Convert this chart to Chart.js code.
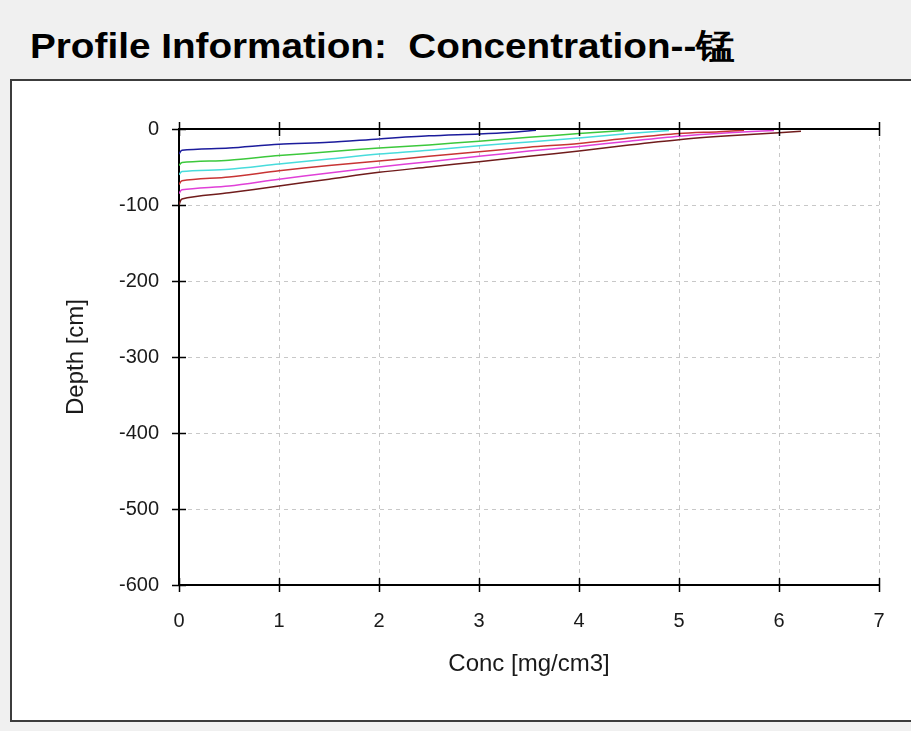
<!DOCTYPE html>
<html>
<head>
<meta charset="utf-8">
<script src="https://cdn.jsdelivr.net/npm/chart.js@4.4.1/dist/chart.umd.min.js"></script>
<style>
  html, body { margin: 0; padding: 0; }
  body { width: 911px; height: 731px; background: #f0f0f0; position: relative; overflow: hidden; }
  #title { position: absolute; left: 30px; top: 23px; font: bold 35px "Liberation Sans", Arial, sans-serif; color: #000; white-space: pre; transform-origin: 0 0; }
  #panel { position: absolute; left: 10px; top: 79px; width: 910px; height: 639px; background: #fff; border: 2px solid #3c3c3c; }
  #wrap { position: absolute; left: 0; top: 0; width: 911px; height: 731px; }
</style>
</head>
<body>
<div id="title">Profile Information:  Concentration--锰</div>
<div id="panel"></div>
<div id="wrap"><canvas id="c" width="911" height="731"></canvas></div>
<script>
// ---- data ----
const xTicks = [0, 1, 2, 3, 4, 5, 6, 7];
const yTicks = [0, -100, -200, -300, -400, -500, -600];
const seriesNames = ["t1", "t2", "t3", "t4", "t5", "t6"];
const seriesColors = ["#1c1c9c", "#3cc83c", "#48dcdc", "#c83434", "#e040d8", "#701c1c"];

const blueConc  = [0, 0.03, 0.5, 1, 1.5, 2, 2.5, 3, 3.3, 3.57];
const blueDepth = [-33, -28, -25, -20, -17.5, -13, -9, -6.5, -4.5, -1.5];

const greenConc  = [0, 0.03, 0.5, 1, 1.5, 2, 2.5, 3, 3.5, 4, 4.45];
const greenDepth = [-48, -44, -41, -35, -30, -25, -21, -16, -11, -6, -2];

const cyanConc  = [0, 0.03, 0.5, 1, 1.5, 2, 2.5, 3, 3.5, 4, 4.5, 4.9];
const cyanDepth = [-60, -56, -53, -46, -39.5, -33, -28, -22, -17, -12, -6, -2];

const redConc  = [0, 0.03, 0.5, 1, 1.5, 2, 2.5, 3, 3.5, 4, 4.5, 5, 5.4, 5.65];
const redDepth = [-73, -68, -63, -55, -48, -42, -36, -30, -24, -19, -12, -6, -3.5, -1.5];

const magentaConc  = [0, 0.03, 0.5, 1, 1.5, 2, 2.5, 3, 3.5, 4, 4.5, 5, 5.5, 5.95];
const magentaDepth = [-85, -80, -75, -66, -58, -50, -43, -36, -29, -23, -16, -9.5, -5, -2];

const brownConc  = [0, 0.03, 0.5, 1, 1.5, 2, 2.5, 3, 3.5, 4, 4.5, 5, 5.5, 6, 6.22];
const brownDepth = [-100, -92, -84, -75, -66, -57, -50, -43, -36, -29, -21, -14, -9, -5, -3];

const concList  = [blueConc, greenConc, cyanConc, redConc, magentaConc, brownConc];
const depthList = [blueDepth, greenDepth, cyanDepth, redDepth, magentaDepth, brownDepth];

// ---- fit the title to the reference width ----
(function () {
  const t = document.getElementById('title');
  const w = t.getBoundingClientRect().width;
  t.style.transform = 'scaleX(' + (705 / w) + ')';
})();

const FONT = "'Liberation Sans', Arial, sans-serif";

const datasets = concList.map((xs, i) => ({
  label: seriesNames[i],
  data: xs.map((x, j) => ({ x: x, y: depthList[i][j] })),
  borderColor: seriesColors[i],
  backgroundColor: seriesColors[i],
  borderWidth: 1.5,
  pointRadius: 0,
  showLine: true,
  tension: 0.3,
  fill: false
}));

// Crossing tick marks and the top (depth 0) axis line, placed via the scales.
const crossTicks = {
  id: 'crossTicks',
  afterDatasetsDraw(chart) {
    const { ctx, scales: { x, y } } = chart;
    const half = 7;
    ctx.save();
    ctx.strokeStyle = '#000';
    ctx.lineWidth = 2;
    const yTop = y.getPixelForValue(0);
    const yBot = y.getPixelForValue(-600);
    const xL = x.getPixelForValue(0);
    const xR = x.getPixelForValue(7);
    ctx.beginPath();
    ctx.moveTo(xL, yTop); ctx.lineTo(xR, yTop);
    ctx.stroke();
    ctx.lineWidth = 1.5;
    ctx.beginPath();
    xTicks.forEach(v => {
      const px = Math.round(x.getPixelForValue(v)) + 0.5;
      ctx.moveTo(px, yTop - half); ctx.lineTo(px, yTop + half);
      ctx.moveTo(px, yBot - half); ctx.lineTo(px, yBot + half);
    });
    yTicks.forEach(v => {
      const py = Math.round(y.getPixelForValue(v)) + 0.5;
      ctx.moveTo(xL - half, py); ctx.lineTo(xL + half, py);
    });
    ctx.stroke();
    ctx.restore();
  }
};

new Chart(document.getElementById('c'), {
  type: 'scatter',
  data: { datasets },
  options: {
    responsive: false,
    animation: false,
    events: [],
    layout: { padding: { left: 0, top: 129, right: 32, bottom: 0 } },
    plugins: { legend: { display: false }, tooltip: { enabled: false } },
    scales: {
      x: {
        type: 'linear',
        position: 'bottom',
        min: 0, max: 7,
        afterBuildTicks: s => { s.ticks = xTicks.map(v => ({ value: v })); },
        afterFit: s => { s.height = 731 - 585; },
        ticks: { color: '#1a1a1a', font: { family: FONT, size: 20 }, padding: 24, maxRotation: 0 },
        grid: { color: '#c8c8c8', lineWidth: 1, drawTicks: false },
        border: { display: true, color: '#000', width: 2, dash: [4, 4] },
        title: { display: true, text: 'Conc [mg/cm3]', color: '#1a1a1a', font: { family: FONT, size: 24 }, padding: { top: 0, bottom: 52 } }
      },
      y: {
        type: 'linear',
        min: -600, max: 0,
        afterBuildTicks: s => { s.ticks = yTicks.map(v => ({ value: v })); },
        afterFit: s => { s.width = 179; },
        ticks: { color: '#1a1a1a', font: { family: FONT, size: 20 }, padding: 20 },
        grid: { color: '#c8c8c8', lineWidth: 1, drawTicks: false },
        border: { display: true, color: '#000', width: 2, dash: [4, 4] },
        title: { display: true, text: 'Depth [cm]', color: '#1a1a1a', font: { family: FONT, size: 24 }, padding: { top: 62, bottom: 0 } }
      }
    }
  },
  plugins: [crossTicks]
});
</script>
</body>
</html>
